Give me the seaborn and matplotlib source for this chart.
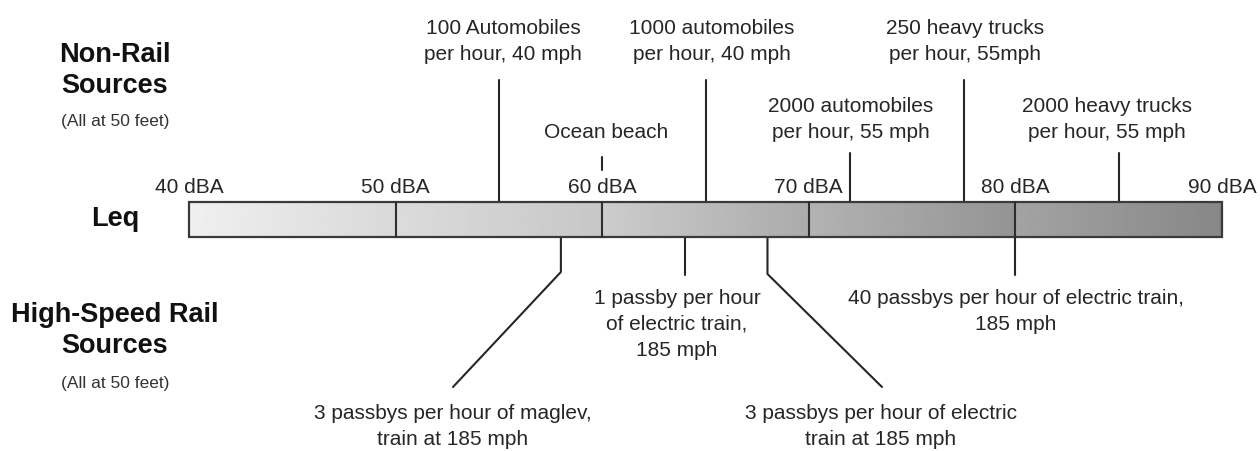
import numpy as np
import pandas as pd
import matplotlib
matplotlib.use("Agg")
import matplotlib.pyplot as plt
from matplotlib.patches import Rectangle
import seaborn as sns

# ---- data -------------------------------------------------------------
scale_ticks = [40, 50, 60, 70, 80, 90]
scale_labels = ["40 dBA", "50 dBA", "60 dBA", "70 dBA", "80 dBA", "90 dBA"]

non_rail_levels = [55, 60, 65, 72, 77.5, 85]
non_rail_labels = [
    "100 Automobiles\nper hour, 40 mph",
    "Ocean beach",
    "1000 automobiles\nper hour, 40 mph",
    "2000 automobiles\nper hour, 55 mph",
    "250 heavy trucks\nper hour, 55mph",
    "2000 heavy trucks\nper hour, 55 mph",
]

rail_levels = [58, 64, 68, 80]
rail_labels = [
    "3 passbys per hour of maglev,\ntrain at 185 mph",
    "1 passby per hour\nof electric train,\n185 mph",
    "3 passbys per hour of electric\ntrain at 185 mph",
    "40 passbys per hour of electric train,\n185 mph",
]

# ---- layout (figure pixels, y measured downwards) ---------------------
W, H = 1260, 451
PX_40, PX_PER_DB = 189.0, 20.66
BAR_TOP, BAR_BOT = 202, 237

# grey level at the left / right end of each 10 dBA band
band_grey = [(0.94, 0.85), (0.86, 0.78), (0.80, 0.67), (0.70, 0.58), (0.64, 0.53)]

# upper leaders: top of line, bottom of line, text centre x (px), first baseline
up_top = [80, 157, 80, 153, 80, 153]
up_tick_bottom = [BAR_TOP, 170, BAR_TOP, BAR_TOP, BAR_TOP, BAR_TOP]
up_text_x = [503, 606, 712, 851, 965, 1107]
up_text_y = [34, 138, 34, 112, 34, 112]

# lower leaders: end of vertical drop, optional diagonal end (px), text
low_drop = [272, 275, 274, 275]
low_diag_end = [(453, 387), None, (882, 387), None]
low_text_x = [453, 677, 881, 1016]
low_text_y = [419, 304, 419, 304]

LINE_STEP = 26
INK = "#262626"
BODY_SIZE = 15
HEAD_SIZE = 19.5
NOTE_SIZE = 12.5


def px_to_db(px):
    return 40 + (px - PX_40) / PX_PER_DB


# ---- styling ----------------------------------------------------------
sns.set_theme(style="white")
plt.rcParams["font.family"] = ["Liberation Sans", "DejaVu Sans"]

fig = plt.figure(figsize=(W / 100, H / 100), dpi=100)
fig.patch.set_facecolor("white")
ax = fig.add_axes([0, 0, 1, 1])
xlim = (px_to_db(0), px_to_db(W))

# ---- the Leq bar: five graded bands -----------------------------------
for i, (lo, hi) in enumerate(zip(scale_ticks[:-1], scale_ticks[1:])):
    g0, g1 = band_grey[i]
    grad = np.linspace(g0, g1, 256)[None, :]
    ax.imshow(grad, extent=[lo, hi, BAR_BOT, BAR_TOP], aspect="auto",
              cmap="gray", vmin=0, vmax=1, interpolation="bilinear", zorder=1)

ax.add_patch(Rectangle((scale_ticks[0], BAR_TOP), scale_ticks[-1] - scale_ticks[0],
                       BAR_BOT - BAR_TOP, fill=False, edgecolor="#3a3a3a",
                       lw=1.6, zorder=3))
for t in scale_ticks[1:-1]:
    ax.plot([t, t], [BAR_TOP, BAR_BOT], color="#2e2e2e", lw=1.5, zorder=3)

for t, lab in zip(scale_ticks, scale_labels):
    ax.text(t, 193, lab, ha="center", va="baseline", fontsize=BODY_SIZE, color=INK)

# ---- leader lines, drawn as one long-form table -----------------------
rows = []
for k, v in enumerate(non_rail_levels):
    rows += [("u%d" % k, v, up_top[k]), ("u%d" % k, v, up_tick_bottom[k])]
for k, v in enumerate(rail_levels):
    rows += [("r%d" % k, v, BAR_BOT), ("r%d" % k, v, low_drop[k])]
    if low_diag_end[k] is not None:
        ex, ey = low_diag_end[k]
        rows.append(("r%d" % k, px_to_db(ex), ey))
leaders = pd.DataFrame(rows, columns=["id", "x", "y"])
sns.lineplot(data=leaders, x="x", y="y", units="id", estimator=None, sort=False,
             color=INK, lw=1.5, ax=ax, legend=False, zorder=2)


def put_lines(x_px, y0, text):
    for j, line in enumerate(text.split("\n")):
        ax.text(px_to_db(x_px), y0 + j * LINE_STEP, line, ha="center",
                va="baseline", fontsize=BODY_SIZE, color=INK)


for k, lab in enumerate(non_rail_labels):
    put_lines(up_text_x[k], up_text_y[k], lab)
for k, lab in enumerate(rail_labels):
    put_lines(low_text_x[k], low_text_y[k], lab)

# ---- row headings on the left -----------------------------------------
LEFT_X = px_to_db(115)
head = dict(ha="center", va="baseline", fontsize=HEAD_SIZE, fontweight="bold",
            color="#111111")
note = dict(ha="center", va="baseline", fontsize=NOTE_SIZE, color="#333333")

ax.text(LEFT_X, 62, "Non-Rail", **head)
ax.text(LEFT_X, 93, "Sources", **head)
ax.text(LEFT_X, 126, "(All at 50 feet)", **note)

ax.text(LEFT_X, 226, "Leq", **head)

ax.text(LEFT_X, 322, "High-Speed Rail", **head)
ax.text(LEFT_X, 353, "Sources", **head)
ax.text(LEFT_X, 388, "(All at 50 feet)", **note)

ax.set_xlim(*xlim)
ax.set_ylim(H, 0)
ax.set_axis_off()

fig.savefig("out.png", dpi=100, facecolor="white")
